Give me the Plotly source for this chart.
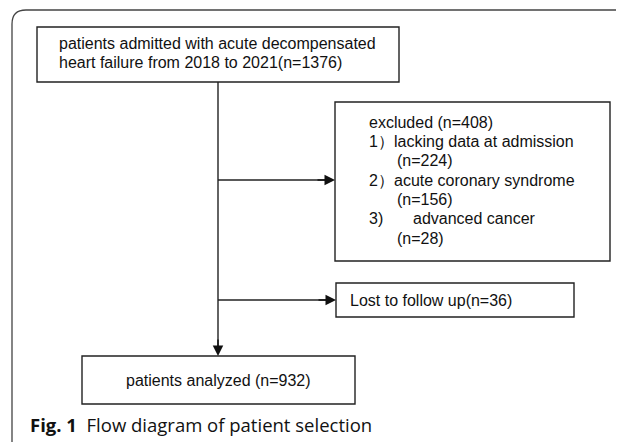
"""Flow diagram of patient selection."""

import plotly.graph_objects as go

# box texts
top_lines = ["patients admitted with acute decompensated",
             "heart failure from 2018 to 2021(n=1376)"]
excluded_head = "excluded (n=408)"
excluded_nums = ["1）", "2）", "3)"]
excluded_reasons = ["lacking data at admission", "acute coronary syndrome",
                    "advanced cancer"]
excluded_counts = ["(n=224)", "(n=156)", "(n=28)"]
lost_label = "Lost to follow up(n=36)"
final_label = "patients analyzed (n=932)"
caption_bold = "Fig. 1"
caption_text = "Flow diagram of patient selection"

W, H = 624, 442
OFF = 8  # page body margin
BOX_FONT = dict(family="Liberation Sans, Arial", size=16, color="#111")
LINE = dict(color="#222", width=1.4)

fig = go.Figure()
# invisible trace so the axes exist
fig.add_trace(go.Scatter(x=[0, W], y=[0, H], mode="markers",
                         marker=dict(opacity=0), hoverinfo="skip",
                         showlegend=False))

shapes = []


def box(x0, y0, x1, y1):
    shapes.append(dict(type="rect", x0=x0, y0=y0, x1=x1, y1=y1,
                       line=LINE, fillcolor="white", layer="below"))


def line(x0, y0, x1, y1):
    shapes.append(dict(type="line", x0=x0, y0=y0, x1=x1, y1=y1,
                       line=LINE, layer="below"))


# outer frame with rounded top-left corner
shapes.append(dict(type="path", path=f"M 12 {H} L 12 24 Q 12 10 26 10 L {W} 10",
                   line=dict(color="#444", width=1.3)))

box(37, 27, 399, 82)
box(335, 102, 610, 261)
box(336, 283, 574, 317)
box(82, 356, 355, 404)

line(218, 82, 218, 348)
line(218, 180, 326, 180)
line(218, 300, 327, 300)

annotations = []


def text(x, y, s, anchor="left", font=BOX_FONT):
    annotations.append(dict(x=x, y=y, text=s, showarrow=False,
                            xanchor=anchor, yanchor="middle", font=font))


def arrow(x, y, ax, ay):
    annotations.append(dict(x=x, y=y, ax=ax, ay=ay, xref="x", yref="y",
                            axref="x", ayref="y", text="", showarrow=True,
                            arrowhead=2, arrowsize=1.5, arrowwidth=1.4,
                            arrowcolor="#111"))


text(57, 43, top_lines[0])
text(57, 62, top_lines[1])

text(367, 122, excluded_head)
row_y = [141, 180, 218]
count_y = [160, 199, 238]
reason_x = [392, 392, 411]
for i in range(3):
    text(367, row_y[i], excluded_nums[i])
    text(reason_x[i], row_y[i], excluded_reasons[i])
    text(395, count_y[i], excluded_counts[i])

text(348, 300, lost_label)
text(218, 380, final_label, anchor="center")

arrow(335, 180, 316, 180)
arrow(336, 300, 317, 300)
arrow(218, 356, 218, 338)

annotations.append(dict(
    x=28, y=424, xanchor="left", yanchor="middle", showarrow=False,
    text=f"<b>{caption_bold}</b>  {caption_text}",
    font=dict(family="Open Sans, Noto Sans", size=18.5, color="#111")))

fig.update_layout(
    width=W - OFF, height=H - OFF,
    margin=dict(l=0, r=0, t=0, b=0),
    plot_bgcolor="white", paper_bgcolor="white",
    xaxis=dict(range=[OFF, W], visible=False, fixedrange=True),
    yaxis=dict(range=[H, OFF], visible=False, fixedrange=True),
    shapes=shapes,
    annotations=annotations,
)

fig.write_html("out.html")
